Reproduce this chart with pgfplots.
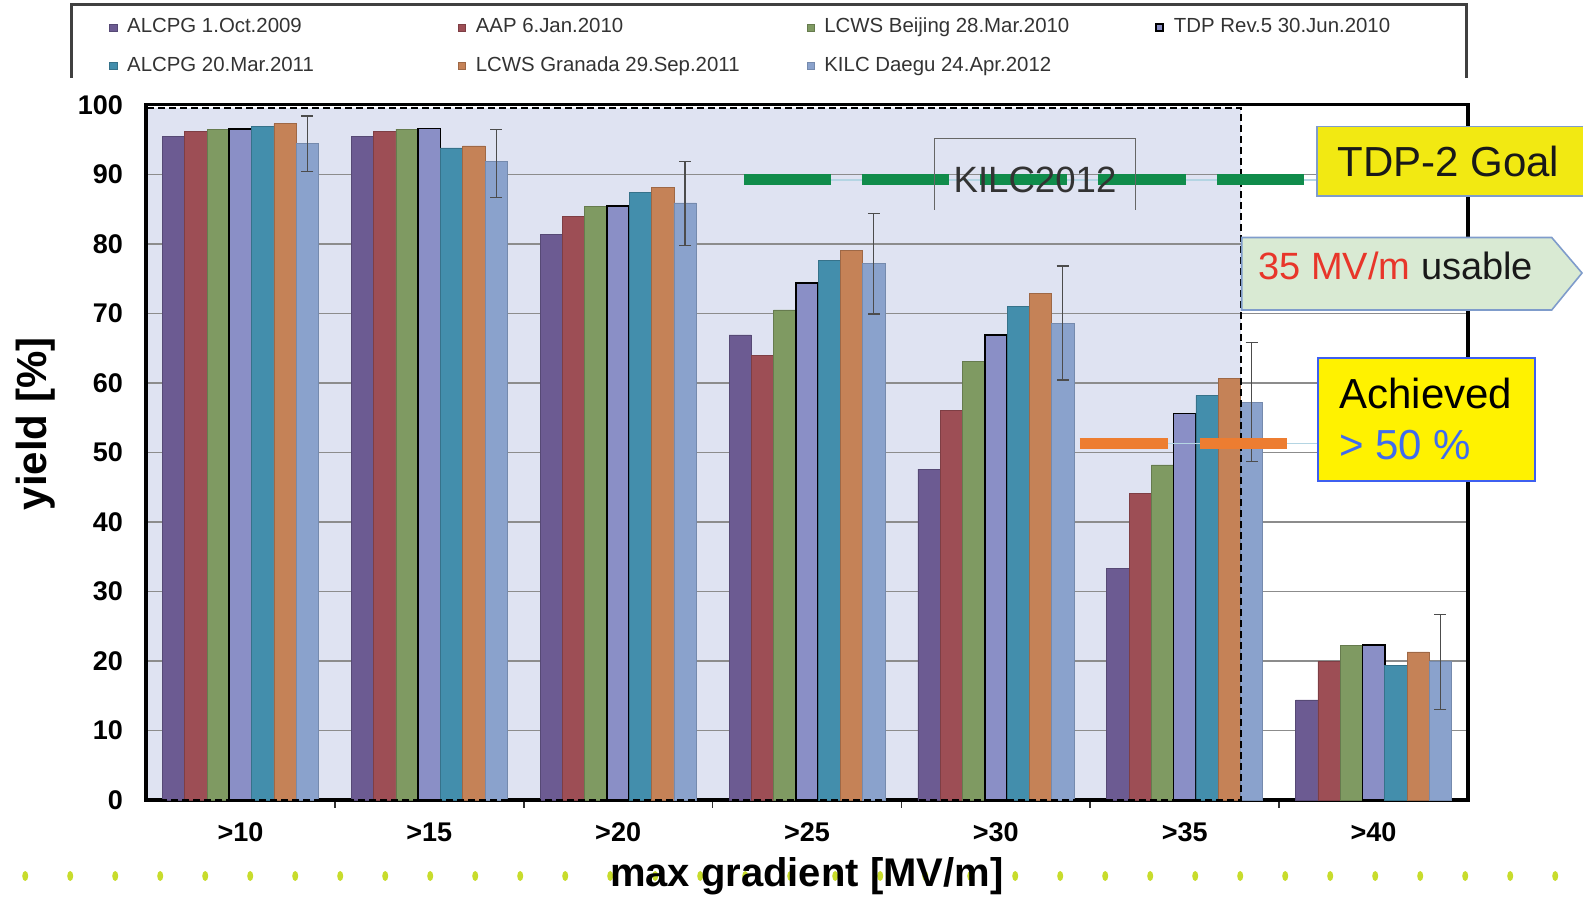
\documentclass[border=0pt]{standalone}
\usepackage{pgfplots}
\pgfplotsset{compat=1.18}
\usepackage{fontspec}
\setmainfont{Liberation Sans}
\definecolor{cA}{HTML}{6C5B92}
\definecolor{cB}{HTML}{9D4E55}
\definecolor{cC}{HTML}{7F9A62}
\definecolor{cD}{HTML}{8A8FC6}
\definecolor{cE}{HTML}{438EAC}
\definecolor{cF}{HTML}{C58257}
\definecolor{cG}{HTML}{8AA2CC}
\definecolor{bgl}{HTML}{DFE3F2}
\definecolor{goalgreen}{HTML}{108C4B}
\definecolor{achorange}{HTML}{ED7D31}
\definecolor{thinblue}{HTML}{B4D5E3}
\definecolor{dotc}{HTML}{C8DC2C}
\definecolor{tdpyellow}{HTML}{F2E912}
\definecolor{boxborder}{HTML}{7F9CCB}
\definecolor{usegreen}{HTML}{D9EAD3}
\definecolor{redtxt}{HTML}{E8362A}
\definecolor{bluetxt}{HTML}{3F6BF0}
\definecolor{bluebord}{HTML}{3D5FF0}
\newcommand{\legtxt}[1]{\makebox[165.4pt][l]{#1}}
\begin{document}
\begin{tikzpicture}
% decorative dotted line behind x label
\begin{scope}[x=0.5pt,y=-0.5pt,yshift=449.5pt]
\foreach \i in {0,...,34} \fill[dotc] ({25.2+45*\i},876) ellipse [x radius=3, y radius=5];
\end{scope}
\begin{axis}[
  set layers,
  at={(73pt,49.5pt)}, anchor=south west,
  scale only axis, width=661pt, height=347.6pt,
  xmin=-0.5, xmax=6.5, ymin=0, ymax=100,
  ybar=0pt, bar width=0.118,
  clip=false,
  xtick={0,...,6},
  xticklabels={>10,>15,>20,>25,>30,>35,>40},
  minor xtick={0.5,1.5,2.5,3.5,4.5,5.5},
  ytick={0,10,...,100},
  xtick pos=bottom, ytick pos=left,
  major tick length=0pt, minor tick length=4pt, tick align=outside,
  minor tick style={black!80, line width=0.8pt},
  ymajorgrids, major grid style={black!45, line width=0.7pt},
  axis line style={line width=1.6pt, black},
  /pgf/number format/assume math mode=true,
  ticklabel style={font=\bfseries\fontsize{13.5}{15}\selectfont},
  xticklabel style={yshift=-8pt},
  yticklabel style={xshift=-8pt},
  xlabel={max gradient [MV/m]},
  ylabel={yield [\%]},
  every axis x label/.style={at={(axis description cs:0.4998,-0.11)}, anchor=center, font=\bfseries\fontsize{20}{22}\selectfont},
  every axis y label/.style={at={(axis description cs:-0.0837,0.541)}, rotate=90, anchor=center, font=\bfseries\fontsize{21}{24}\selectfont},
  legend columns=4,
  legend image code/.code={\draw[#1] (0pt,-1.8pt) rectangle (3.6pt,1.8pt);},
  legend style={draw=none, fill=none, at={(axis description cs:-0.028,1.0835)}, anchor=west,
    inner sep=0pt, row sep=9.8pt,
    font=\fontsize{10.2}{12}\selectfont\color{black!80},
    /tikz/every odd column/.append style={column sep=5pt},
    nodes={inner sep=0pt, text height=7.4pt, text depth=2pt}},
]
\begin{pgfonlayer}{axis background}
\fill[bgl] (axis cs:-0.5,0) rectangle (axis cs:5.30,99.5);
\end{pgfonlayer}
\addplot[fill=cA, draw=cA!80!black, line width=0.3pt] coordinates {(0,95.4) (1,95.4) (2,81.4) (3,66.9) (4,47.6) (5,33.3) (6,14.4)};
\addlegendentry{\legtxt{ALCPG 1.Oct.2009}}
\addplot[fill=cB, draw=cB!80!black, line width=0.3pt] coordinates {(0,96.2) (1,96.2) (2,84.0) (3,64.0) (4,56.0) (5,44.1) (6,19.9)};
\addlegendentry{\legtxt{AAP 6.Jan.2010}}
\addplot[fill=cC, draw=cC!80!black, line width=0.3pt] coordinates {(0,96.5) (1,96.5) (2,85.4) (3,70.5) (4,63.1) (5,48.2) (6,22.2)};
\addlegendentry{\legtxt{LCWS Beijing 28.Mar.2010}}
\addplot[fill=cD, draw=black, line width=0.8pt] coordinates {(0,96.5) (1,96.6) (2,85.4) (3,74.4) (4,66.9) (5,55.6) (6,22.3)};
\addlegendentry{\legtxt{TDP Rev.5 30.Jun.2010}}
\addplot[fill=cE, draw=cE!80!black, line width=0.3pt] coordinates {(0,96.9) (1,93.8) (2,87.4) (3,77.6) (4,71.0) (5,58.2) (6,19.4)};
\addlegendentry{\legtxt{ALCPG 20.Mar.2011}}
\addplot[fill=cF, draw=cF!80!black, line width=0.3pt] coordinates {(0,97.3) (1,94.1) (2,88.1) (3,79.0) (4,72.9) (5,60.6) (6,21.3)};
\addlegendentry{\legtxt{LCWS Granada 29.Sep.2011}}
\addplot[fill=cG, draw=cG!85!black, line width=0.3pt,
  error bars/.cd, y dir=both, y explicit,
  error bar style={black!70, line width=0.6pt},
  error mark options={rotate=90, mark size=3pt, black!70, line width=0.6pt}]
  coordinates {
  (0,94.5) += (0,3.9) -= (0,4.1)
  (1,91.8) += (0,4.7) -= (0,5.1)
  (2,85.9) += (0,6.0) -= (0,6.1)
  (3,77.2) += (0,7.2) -= (0,7.3)
  (4,68.6) += (0,8.2) -= (0,8.2)
  (5,57.2) += (0,8.6) -= (0,8.5)
  (6,19.9) += (0,6.8) -= (0,6.9)};
\addlegendentry{\legtxt{KILC Daegu 24.Apr.2012}}
% dashed KILC2012 region
\draw[black, line width=1pt, dash pattern=on 3.5pt off 2pt] (axis cs:-0.5,0) rectangle (axis cs:5.30,99.5);
% TDP-2 goal line
\draw[thinblue, line width=0.7pt] (axis cs:2.669,89.2) -- (axis cs:5.699,89.2);
\draw[goalgreen, line width=5.5pt, dash pattern=on 43.5pt off 15.5pt] (axis cs:2.669,89.2) -- (axis cs:5.651,89.2);
% achieved line
\draw[thinblue, line width=0.7pt] (axis cs:4.444,51.3) -- (axis cs:5.705,51.3);
\draw[achorange, line width=5.5pt, dash pattern=on 44pt off 16pt] (axis cs:4.444,51.3) -- (axis cs:5.539,51.3);
\end{axis}
\begin{scope}[x=0.5pt,y=-0.5pt,yshift=449.5pt]
% legend frame
\draw[black!75, line width=1.5pt] (71,78) -- (71,5) -- (1466,5) -- (1466,78);
% KILC2012 label box
\draw[black!60, line width=0.5pt] (934.6,210) -- (934.6,139) -- (1135.7,139) -- (1135.7,210);
\node[inner sep=0pt, text=black!80, font=\fontsize{18.3}{20}\selectfont] at (1035,180) {KILC2012};
% TDP-2 goal box
\fill[tdpyellow] (1317,126.7) rectangle (1583,196);
\draw[boxborder, line width=0.8pt] (1583,126.7) -- (1317,126.7) -- (1317,196) -- (1583,196);
\node[inner sep=0pt, anchor=west, text=black!90, font=\fontsize{21}{24}\selectfont] at (1337,161) {TDP-2 Goal};
% 35 MV/m usable arrow
\draw[fill=usegreen, draw=boxborder, line width=0.8pt] (1241.7,237.5) -- (1551.7,237.5) -- (1582,273) -- (1551.7,310) -- (1241.7,310) -- cycle;
\node[inner sep=0pt, anchor=west, font=\fontsize{19}{22}\selectfont] at (1258,266) {\textcolor{redtxt}{35 MV/m} \textcolor{black!90}{usable}};
% achieved box
\draw[fill=yellow, draw=bluebord, line width=1pt] (1318,357.7) rectangle (1535,480.7);
\node[inner sep=0pt, anchor=west, font=\fontsize{21}{24}\selectfont] at (1339,393) {Achieved};
\node[inner sep=0pt, anchor=west, text=bluetxt, font=\fontsize{21}{24}\selectfont] at (1339,445) {> 50 \%};
\end{scope}
\pgfresetboundingbox
\path[use as bounding box] (0,0) rectangle (791.5pt,449.5pt);
\end{tikzpicture}
\end{document}
